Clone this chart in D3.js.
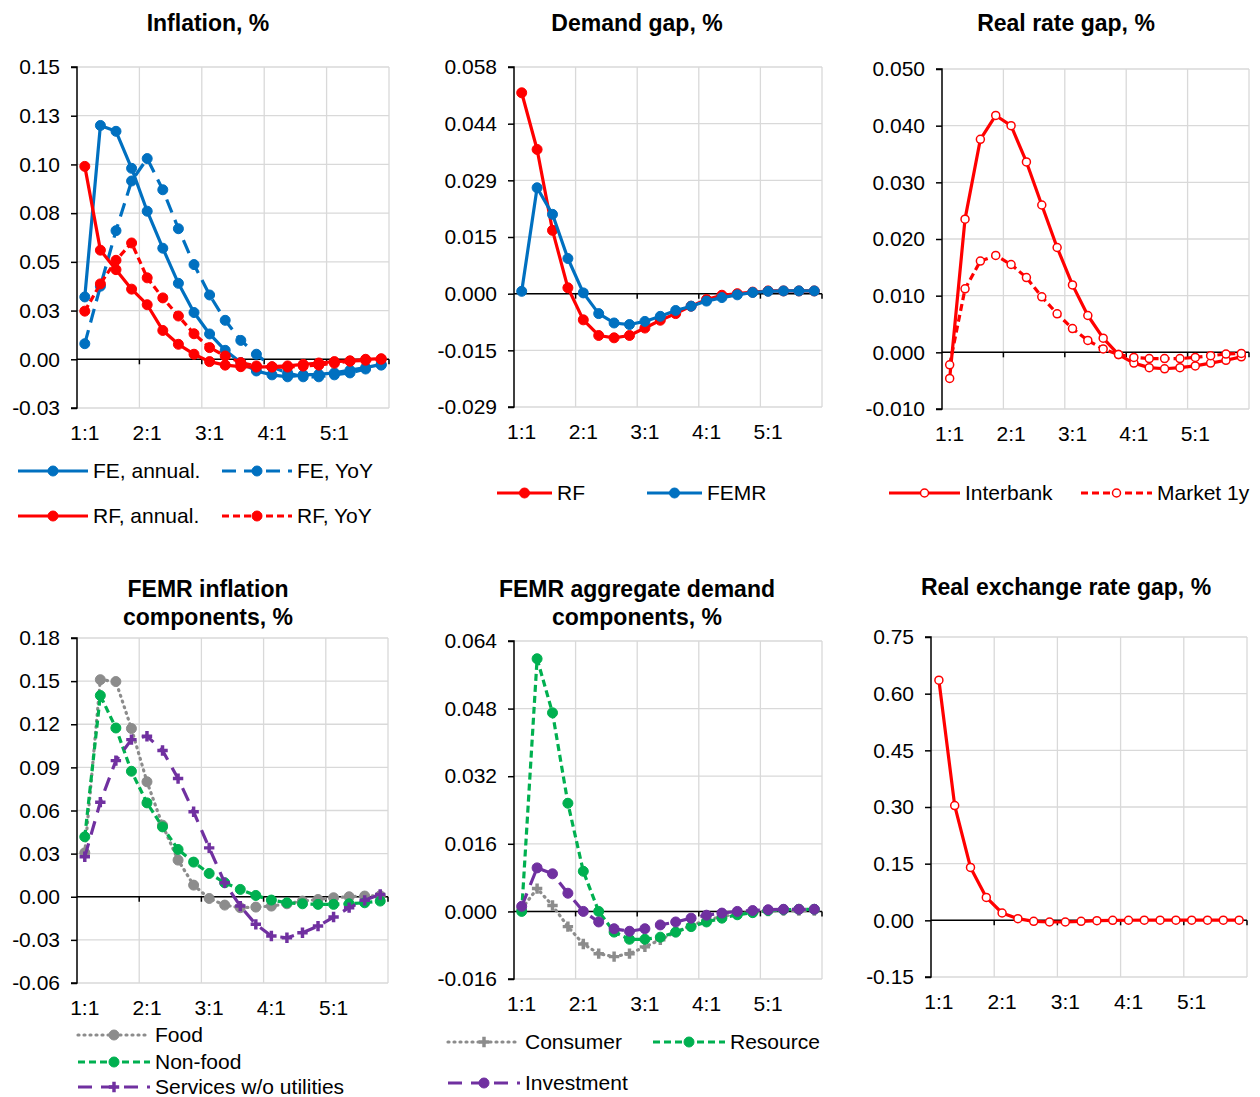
<!DOCTYPE html>
<html>
<head>
<meta charset="utf-8">
<script src="https://cdn.jsdelivr.net/npm/d3@7"></script>
<style>
  body { margin: 0; background: #fff; }
  text { font-family: "Liberation Sans", Arial, sans-serif; fill: #000; }
</style>
</head>
<body>
<script>
// quarters on the x axis, labels only on the first quarter of each year
const quarters = ["1:1","1:2","1:3","1:4","2:1","2:2","2:3","2:4","3:1","3:2","3:3","3:4",
                  "4:1","4:2","4:3","4:4","5:1","5:2","5:3","5:4"];
const xTickLabels = ["1:1","2:1","3:1","4:1","5:1"];

// Inflation, %
const inflTicks = [-0.025, 0, 0.025, 0.05, 0.075, 0.10, 0.125, 0.15];
const inflTickLabels = ["-0.03","0.00","0.03","0.05","0.08","0.10","0.13","0.15"];
const feAnnual = [0.032,0.120,0.117,0.098,0.076,0.057,0.039,0.024,0.013,0.0046,-0.0017,-0.006,-0.008,-0.009,-0.008,-0.0077,-0.007,-0.0056,-0.0043,-0.0026];
const feYoY = [0.008,0.0375,0.066,0.0915,0.103,0.087,0.067,0.0486,0.033,0.020,0.0097,0.0026,-0.004,-0.007,-0.009,-0.009,-0.008,-0.007,-0.005,-0.003];
const rfAnnual = [0.099,0.056,0.046,0.036,0.028,0.0148,0.0077,0.0026,-0.0012,-0.003,-0.0038,-0.004,-0.0038,-0.0034,-0.0026,-0.0019,-0.0012,-0.0008,0,0.0003];
const rfYoY = [0.0247,0.0387,0.0508,0.0597,0.0418,0.0315,0.0222,0.0131,0.006,0.0017,-0.0017,-0.0034,-0.004,-0.004,-0.0035,-0.003,-0.002,-0.001,-0.0005,0];

// Demand gap, %
const gapTicks = [-0.029, -0.0145, 0, 0.0145, 0.029, 0.0435, 0.058];
const gapTickLabels = ["-0.029","-0.015","0.000","0.015","0.029","0.044","0.058"];
const gapRF = [0.0514,0.0369,0.0162,0.0015,-0.0067,-0.0107,-0.0113,-0.0107,-0.0088,-0.0068,-0.0051,-0.0032,-0.0015,-0.0004,0,0.0004,0.0007,0.0007,0.0007,0.0007];
const gapFEMR = [0.0006,0.0271,0.0203,0.009,0.0002,-0.0051,-0.0075,-0.0079,-0.0071,-0.0058,-0.0043,-0.0032,-0.0019,-0.001,-0.0003,0.0003,0.0006,0.0007,0.0007,0.0007];

// Real rate gap, %
const rateTicks = [-0.01, 0, 0.01, 0.02, 0.03, 0.04, 0.05];
const rateTickLabels = ["-0.010","0.000","0.010","0.020","0.030","0.040","0.050"];
const interbank = [-0.0046,0.0235,0.0376,0.0418,0.040,0.0336,0.026,0.0185,0.0119,0.0065,0.0025,-0.0004,-0.0019,-0.0027,-0.0029,-0.0027,-0.0024,-0.0019,-0.0014,-0.0008];
const market1y = [-0.0022,0.0112,0.0161,0.0171,0.0155,0.0132,0.0098,0.0068,0.0042,0.0021,0.0006,-0.0004,-0.0009,-0.0011,-0.0011,-0.0011,-0.0009,-0.0006,-0.0003,-0.0002];

// FEMR inflation components, %
const compTicks = [-0.06, -0.03, 0, 0.03, 0.06, 0.09, 0.12, 0.15, 0.18];
const compTickLabels = ["-0.06","-0.03","0.00","0.03","0.06","0.09","0.12","0.15","0.18"];
const food = [0.0306,0.151,0.1497,0.117,0.080,0.0498,0.0255,0.0081,-0.0012,-0.0058,-0.0076,-0.0072,-0.0065,-0.0049,-0.003,-0.0019,-0.0007,0,0.0005,0.0007];
const nonFood = [0.0417,0.140,0.1174,0.0873,0.0653,0.0486,0.0329,0.0241,0.0162,0.0097,0.0051,0.0009,-0.0023,-0.0042,-0.0049,-0.0053,-0.0053,-0.0049,-0.0042,-0.003];
const services = [0.0278,0.0658,0.0947,0.1093,0.1117,0.1017,0.0822,0.0591,0.034,0.0097,-0.0065,-0.0192,-0.0273,-0.0285,-0.025,-0.0204,-0.0141,-0.0076,-0.0025,0.0016];

// FEMR aggregate demand components, %
const demTicks = [-0.016, 0, 0.016, 0.032, 0.048, 0.064];
const demTickLabels = ["-0.016","0.000","0.016","0.032","0.048","0.064"];
const consumer = [0.0006,0.0054,0.0014,-0.0036,-0.0077,-0.010,-0.0107,-0.010,-0.0084,-0.0067,-0.0049,-0.0033,-0.0021,-0.0012,-0.0006,-0.0002,0.0001,0.0002,0.0002,0.0002];
const resource = [0,0.0598,0.047,0.0256,0.0095,0,-0.0049,-0.0066,-0.0066,-0.0061,-0.0049,-0.0036,-0.0025,-0.0016,-0.0008,-0.0003,0.0002,0.0004,0.0005,0.0005];
const investment = [0.0012,0.0103,0.0089,0.0043,0,-0.0025,-0.0041,-0.0047,-0.0041,-0.0032,-0.0025,-0.0016,-0.0009,-0.0004,0,0.0002,0.0004,0.0005,0.0005,0.0005];

// Real exchange rate gap, %
const rerTicks = [-0.15, 0, 0.15, 0.30, 0.45, 0.60, 0.75];
const rerTickLabels = ["-0.15","0.00","0.15","0.30","0.45","0.60","0.75"];
const rerGap = [0.6356,0.3037,0.140,0.0607,0.0194,0.0044,-0.0026,-0.0044,-0.0044,-0.0026,-0.001,0,0.0002,0.0003,0.0003,0.0003,0.0003,0.0003,0.0003,0.0003];

const blue = "#0070C0", red = "#FF0000", gray = "#8C8C8C", green = "#00B050", purple = "#7030A0";

const svg = d3.select("body").append("svg").attr("width", 1260).attr("height", 1097);

const panels = [
  { left: 77, right: 389, top: 67, bottom: 408, ticks: inflTicks, labels: inflTickLabels,
    title: ["Inflation, %"], titleX: 208, titleY: 31,
    series: [
      { name: "FE, annual.", values: feAnnual, color: blue, dash: null, marker: "dot", lx: 18, ly: 471 },
      { name: "FE, YoY", values: feYoY, color: blue, dash: "14,8", marker: "dot", lx: 222, ly: 471 },
      { name: "RF, annual.", values: rfAnnual, color: red, dash: null, marker: "dot", lx: 18, ly: 516 },
      { name: "RF, YoY", values: rfYoY, color: red, dash: "7,4", marker: "dot", lx: 222, ly: 516 }
    ], legendLen: 70 },
  { left: 514, right: 822, top: 67, bottom: 407, ticks: gapTicks, labels: gapTickLabels,
    title: ["Demand gap, %"], titleX: 637, titleY: 31,
    series: [
      { name: "RF", values: gapRF, color: red, dash: null, marker: "dot", lx: 497, ly: 493 },
      { name: "FEMR", values: gapFEMR, color: blue, dash: null, marker: "dot", lx: 647, ly: 493 }
    ], legendLen: 55 },
  { left: 942, right: 1249, top: 69, bottom: 409, ticks: rateTicks, labels: rateTickLabels,
    title: ["Real rate gap, %"], titleX: 1066, titleY: 31,
    series: [
      { name: "Interbank", values: interbank, color: red, dash: null, marker: "ring", lx: 889, ly: 493 },
      { name: "Market 1y", values: market1y, color: red, dash: "7,4", marker: "ring", lx: 1081, ly: 493 }
    ], legendLen: 71 },
  { left: 77, right: 388, top: 638, bottom: 983, ticks: compTicks, labels: compTickLabels,
    title: ["FEMR inflation", "components, %"], titleX: 208, titleY: 597,
    series: [
      { name: "Food", values: food, color: gray, dash: "1,5", marker: "dot", lx: 78, ly: 1035 },
      { name: "Non-food", values: nonFood, color: green, dash: "7,4", marker: "dot", lx: 78, ly: 1062 },
      { name: "Services w/o utilities", values: services, color: purple, dash: "14,9", marker: "cross", lx: 78, ly: 1087 }
    ], legendLen: 72 },
  { left: 514, right: 822, top: 641, bottom: 979, ticks: demTicks, labels: demTickLabels,
    title: ["FEMR aggregate demand", "components, %"], titleX: 637, titleY: 597,
    series: [
      { name: "Consumer", values: consumer, color: gray, dash: "1,5", marker: "cross", lx: 448, ly: 1042 },
      { name: "Resource", values: resource, color: green, dash: "7,4", marker: "dot", lx: 653, ly: 1042 },
      { name: "Investment", values: investment, color: purple, dash: "14,9", marker: "dot", lx: 448, ly: 1083 }
    ], legendLen: 72 },
  { left: 931, right: 1247, top: 637, bottom: 977, ticks: rerTicks, labels: rerTickLabels,
    title: ["Real exchange rate gap, %"], titleX: 1066, titleY: 595,
    series: [
      { name: null, values: rerGap, color: red, dash: null, marker: "ring" }
    ], legendLen: 0 }
];

function drawMarker(g, type, color, cx, cy) {
  if (type === "dot") {
    g.append("circle").attr("cx", cx).attr("cy", cy).attr("r", 5)
      .attr("fill", color).attr("stroke", color).attr("stroke-width", 1);
  } else if (type === "ring") {
    g.append("circle").attr("cx", cx).attr("cy", cy).attr("r", 4)
      .attr("fill", "#fff").attr("stroke", color).attr("stroke-width", 1.5);
  } else {
    g.append("path").attr("d", d3.symbol(d3.symbolCross, 60)())
      .attr("transform", `translate(${cx},${cy})`)
      .attr("fill", color);
  }
}

panels.forEach(p => {
  const g = svg.append("g");
  const x = d3.scaleBand().domain(quarters).range([p.left, p.right]);
  const y = d3.scaleLinear().domain([p.ticks[0], p.ticks[p.ticks.length - 1]]).range([p.bottom, p.top]);

  // title
  p.title.forEach((t, i) => {
    g.append("text").attr("x", p.titleX).attr("y", p.titleY + i * 28)
      .attr("text-anchor", "middle").attr("font-size", 23).attr("font-weight", "bold").text(t);
  });

  // gridlines
  g.append("g").selectAll("line").data(p.ticks).join("line")
    .attr("x1", p.left).attr("x2", p.right)
    .attr("y1", d => y(d)).attr("y2", d => y(d))
    .attr("stroke", "#D9D9D9").attr("stroke-width", 1.3);
  const yearStarts = quarters.filter(q => q.endsWith(":1")).slice(1);
  const vx = yearStarts.map(q => x(q)).concat([p.right]);
  g.append("g").selectAll("line").data(vx).join("line")
    .attr("x1", d => d).attr("x2", d => d)
    .attr("y1", p.top).attr("y2", p.bottom)
    .attr("stroke", "#D9D9D9").attr("stroke-width", 1.3);

  // y axis
  const yAxis = d3.axisLeft(y).tickValues(p.ticks).tickSize(6).tickPadding(11)
    .tickFormat((d, i) => p.labels[i]);
  const ya = g.append("g").attr("transform", `translate(${p.left},0)`).call(yAxis);
  ya.select(".domain").attr("stroke", "#000").attr("stroke-width", 1.5).attr("d", `M-6,${p.top}H0V${p.bottom}H-6`);
  ya.selectAll(".tick line").attr("stroke", "#000").attr("stroke-width", 1.5);
  ya.selectAll(".tick text").attr("font-size", 21).attr("font-family", "Liberation Sans, Arial, sans-serif").attr("fill", "#000");

  // zero line with year tick marks
  g.append("line").attr("x1", p.left).attr("x2", p.right)
    .attr("y1", y(0)).attr("y2", y(0)).attr("stroke", "#000").attr("stroke-width", 1.5);
  g.append("g").selectAll("line").data(vx).join("line")
    .attr("x1", d => d).attr("x2", d => d)
    .attr("y1", y(0)).attr("y2", y(0) + 5).attr("stroke", "#000").attr("stroke-width", 1.5);

  // x labels at the bottom
  const xAxis = d3.axisBottom(x).tickValues(xTickLabels).tickSize(0).tickPadding(17);
  const xa = g.append("g").attr("transform", `translate(0,${p.bottom})`).call(xAxis);
  xa.select(".domain").remove();
  xa.selectAll(".tick text").attr("font-size", 21).attr("font-family", "Liberation Sans, Arial, sans-serif").attr("fill", "#000");

  // series
  const cx = i => x(quarters[i]) + x.bandwidth() / 2;
  p.series.forEach(s => {
    const line = d3.line().x((d, i) => cx(i)).y(d => y(d));
    g.append("path").datum(s.values).attr("d", line)
      .attr("fill", "none").attr("stroke", s.color).attr("stroke-width", 3.2)
      .attr("stroke-linecap", s.dash === "1,5" ? "round" : "butt")
      .attr("stroke-linejoin", "round")
      .attr("stroke-dasharray", s.dash);
    s.values.forEach((v, i) => drawMarker(g, s.marker, s.color, cx(i), y(v)));

    if (s.name) {
      const L = p.legendLen;
      g.append("line").attr("x1", s.lx).attr("x2", s.lx + L).attr("y1", s.ly).attr("y2", s.ly)
        .attr("stroke", s.color).attr("stroke-width", 3.2)
        .attr("stroke-linecap", s.dash === "1,5" ? "round" : "butt")
        .attr("stroke-dasharray", s.dash);
      drawMarker(g, s.marker, s.color, s.lx + L / 2, s.ly);
      g.append("text").attr("x", s.lx + L + 5).attr("y", s.ly + 7)
        .attr("font-size", 21).text(s.name);
    }
  });
});
</script>
</body>
</html>
